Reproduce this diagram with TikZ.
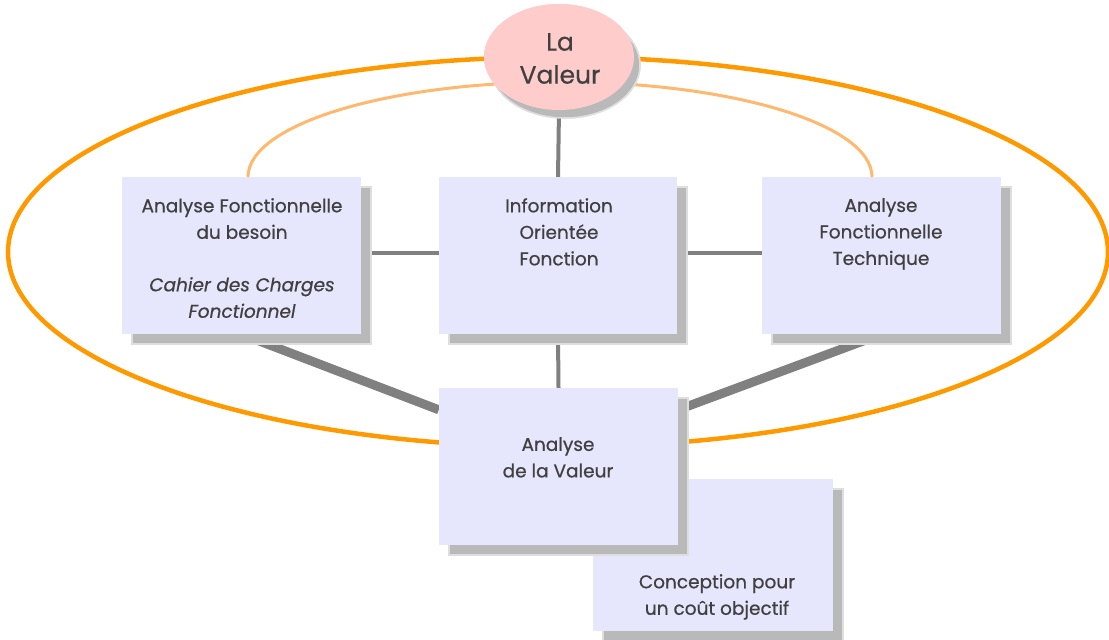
\documentclass[tikz,border=0pt]{standalone}
\usepackage{fontspec}
\setmainfont{Poppins}[UprightFeatures={FakeBold=0.6}, ItalicFeatures={FakeBold=0.6}]
\usetikzlibrary{shapes.geometric,shadows,calc}
\definecolor{boxfill}{RGB}{230,230,252}
\definecolor{txt}{RGB}{64,64,64}
\definecolor{orangeA}{RGB}{255,153,0}
\definecolor{orangeB}{RGB}{255,185,110}
\definecolor{conn}{RGB}{128,128,128}
\definecolor{shad}{RGB}{185,185,185}
\definecolor{shadedge}{RGB}{222,222,222}
\definecolor{pinkfill}{RGB}{255,204,204}
\begin{document}
\begin{tikzpicture}[x=1pt,y=-1pt,
  boxstyle/.style={rectangle, fill=boxfill, inner sep=0pt,
    general shadow={fill=shad, draw=shadedge, line width=1.5pt, shadow xshift=10pt, shadow yshift=-10pt}},
  ovalstyle/.style={ellipse, fill=pinkfill, inner sep=0pt,
    general shadow={fill=shad, draw=shadedge, line width=1.5pt, shadow xshift=6pt, shadow yshift=-8pt}},
  lbl/.style={text=txt, font=\fontsize{18.5}{26.5}\selectfont, align=center, anchor=north, inner sep=0pt},
  thinline/.style={draw=conn, line width=4pt},
  thickline/.style={draw=conn, line width=9pt}]
\useasboundingbox (0,0) rectangle (1109,640);
\fill[white] (0,0) rectangle (1109,640);

% orange rings
\draw[orangeA, line width=4.5pt] (558,252) ellipse [x radius=550pt, y radius=195pt];
\draw[orangeB, line width=3pt] (248,177) arc[start angle=180, end angle=0, x radius=312pt, y radius=95pt];

% nodes
\node[ovalstyle, minimum width=150pt, minimum height=106pt] (val) at (559,57) {};
\node[boxstyle, minimum width=239pt, minimum height=157pt] (afb) at (241.5,255.5) {};
\node[boxstyle, minimum width=238pt, minimum height=157pt] (iof) at (558,255.5) {};
\node[boxstyle, minimum width=239pt, minimum height=157pt] (aft) at (881.5,255.5) {};
\node[boxstyle, minimum width=240pt, minimum height=152pt] (cco) at (713,555) {};

% connectors
\draw[thinline] (val.south) -- (iof.north);
\draw[thinline] ($(afb.east)+(0,-3)$) -- ($(iof.west)+(0,-3)$);
\draw[thinline] ($(iof.east)+(0,-3)$) -- ($(aft.west)+(0,-3)$);

\node[boxstyle, minimum width=239pt, minimum height=157pt] (av) at (558.5,466.5) {};
\draw[thinline] (iof.south) -- (av.north);
\draw[thickline] (afb.south) -- ($(av.north west)+(0,22)$);
\draw[thickline] (aft.south) -- ($(av.north east)+(0,22)$);

% redraw shapes over connectors
\node[ovalstyle, minimum width=150pt, minimum height=106pt] (val2) at (559,57) {};
\node[boxstyle, minimum width=239pt, minimum height=157pt] (afb2) at (241.5,255.5) {};
\node[boxstyle, minimum width=238pt, minimum height=157pt] (iof2) at (558,255.5) {};
\node[boxstyle, minimum width=239pt, minimum height=157pt] (aft2) at (881.5,255.5) {};
\node[boxstyle, minimum width=239pt, minimum height=157pt] (av2) at (558.5,466.5) {};

% texts
\node[lbl, font=\fontsize{25}{33}\selectfont] (tval) at (560,33) {La\\Valeur};
\node[lbl] (tafb) at (242,198) {Analyse Fonctionnelle\\du besoin\\[26pt]\textit{Cahier des Charges}\\\textit{Fonctionnel}};
\node[lbl] (tiof) at (559,198) {Information\\Orientée\\Fonction};
\node[lbl] (taft) at (881,198) {Analyse\\Fonctionnelle\\Technique};
\node[lbl] (tav) at (558,437) {Analyse\\de la Valeur};
\node[lbl] (tcco) at (717,574) {Conception pour\\un coût objectif};
\end{tikzpicture}
\end{document}
